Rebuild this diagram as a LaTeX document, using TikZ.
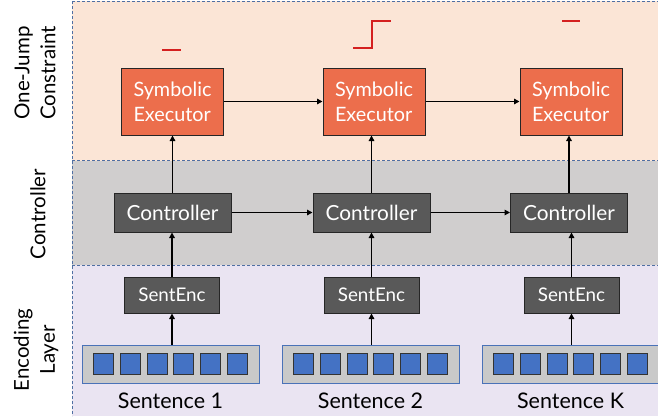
\documentclass[tikz,border=0pt]{standalone}
\usepackage{fontspec}
\setmainfont{Lato}
\usetikzlibrary{arrows.meta}
\definecolor{bandA}{HTML}{FBE5D6}
\definecolor{bandB}{HTML}{D0CECE}
\definecolor{bandC}{HTML}{EAE4F2}
\definecolor{symfill}{HTML}{EC6E4C}
\definecolor{darkbox}{HTML}{595959}
\definecolor{sentfill}{HTML}{C9C9C9}
\definecolor{sentborder}{HTML}{4A72B8}
\definecolor{sq}{HTML}{4472C4}
\definecolor{dashc}{HTML}{4F6FA3}
\definecolor{sig}{HTML}{D42020}
\tikzset{
  symbox/.style={draw=black!85, line width=1pt, fill=symfill, text=white, align=left,
    minimum width=102pt, minimum height=67pt, inner sep=0pt, font=\fontsize{19.8}{25}\selectfont},
  ctrlbox/.style={draw=black!85, line width=1pt, fill=darkbox, text=white,
    minimum width=117pt, minimum height=39pt, inner sep=0pt, font=\fontsize{20.8}{24}\selectfont},
  encbox/.style={draw=black!85, line width=1pt, fill=darkbox, text=white,
    minimum width=95pt, minimum height=36pt, inner sep=0pt, font=\fontsize{18.8}{22}\selectfont},
  sentbox/.style={draw=sentborder, line width=1pt, fill=sentfill,
    minimum width=177pt, minimum height=38pt, inner sep=0pt},
  tok/.style={draw=black!80, line width=0.9pt, fill=sq, minimum width=20pt, minimum height=21pt, inner sep=0pt},
  sentlabel/.style={font=\fontsize{21.5}{25}\selectfont, inner sep=0pt},
  sidelabel/.style={rotate=90, align=center, font=\fontsize{20.5}{26}\selectfont, inner sep=0pt},
  arr/.style={line width=1.7pt, -{Triangle[length=5.5pt,width=5.5pt]}},
  bandline/.style={dashc, line width=0.9pt, dash pattern=on 3pt off 2pt},
  signal/.style={sig, line width=1.4pt}
}
\begin{document}
\begin{tikzpicture}[x=1pt,y=-1pt]
\useasboundingbox (0,0) rectangle (658,416);
\begin{scope}
\clip (0,0) rectangle (658,416);
% bands
\fill[bandA] (72,1) rectangle (658,160.5);
\fill[bandB] (72,160.5) rectangle (658,265);
\fill[bandC] (72,265) rectangle (658,416);
\draw[bandline] (72,1) -- (658,1);
\draw[bandline] (72,160.5) -- (658,160.5);
\draw[bandline] (72,265) -- (658,265);
\draw[bandline] (72,1) -- (72,416);

% side labels
\node[sidelabel] (lblA) at (35,73) {One-Jump\\Constraint};
\node[sidelabel] (lblB) at (38,214) {Controller};
\node[sidelabel] (lblC) at (36,350) {Encoding\\Layer};

% symbolic executors
\node[symbox] (sym1) at (172.5,101.5) {Symbolic\\Executor};
\node[symbox] (sym2) at (374,101.5) {Symbolic\\Executor};
\node[symbox] (sym3) at (571,101.5) {Symbolic\\Executor};

% controllers
\node[ctrlbox] (ctl1) at (172.5,212.5) {Controller};
\node[ctrlbox] (ctl2) at (371.5,212.5) {Controller};
\node[ctrlbox] (ctl3) at (569,212.5) {Controller};

% sentence encoders
\node[encbox] (enc1) at (172,295) {SentEnc};
\node[encbox] (enc2) at (371.5,295) {SentEnc};
\node[encbox] (enc3) at (571.5,295) {SentEnc};

% sentence boxes
\foreach \i/\x in {1/170.5, 2/370.5, 3/570.5}{
  \node[sentbox] (sent\i) at (\x,364) {};
  \foreach \k in {0,...,5}{
    \node[tok] (tok\i\k) at ({\x-66.75+26.7*\k},363.5) {};
  }
}
\node[sentlabel] (lab1) at (170.5,401) {Sentence 1};
\node[sentlabel] (lab2) at (370.5,401) {Sentence 2};
\node[sentlabel] (lab3) at (570.5,401) {Sentence K};

% arrows
\foreach \i in {1,2,3}{
  \draw[arr] (sent\i.north -| enc\i) -- (enc\i.south);
  \draw[arr] (enc\i.north) -- (enc\i.north |- ctl\i.south);
  \draw[arr] (ctl\i.north) -- (ctl\i.north |- sym\i.south);
}
\draw[arr] (sym1.east) -- (sym2.west);
\draw[arr] (sym2.east) -- (sym3.west);
\draw[arr] (ctl1.east) -- (ctl2.west);
\draw[arr] (ctl2.east) -- (ctl3.west);

% signals
\draw[signal] (162,50) -- (181,50);
\draw[signal] (353,48) -- (372,48) -- (372,21) -- (391,21);
\draw[signal] (562,21) -- (580,21);
\end{scope}
\end{tikzpicture}
\end{document}
